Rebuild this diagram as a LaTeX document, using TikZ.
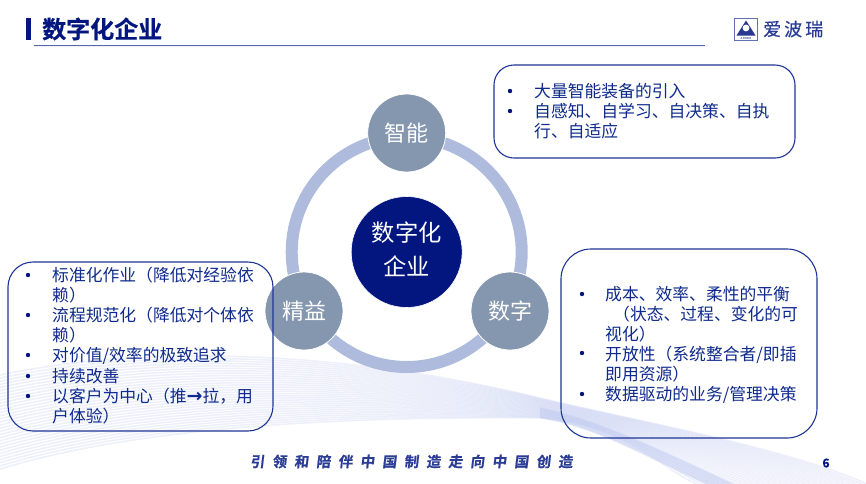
\documentclass[tikz,border=0pt]{standalone}
\usepackage{fontspec}
\setmainfont{Noto Sans CJK SC}
\newfontfamily\footfont[FakeSlant=0.12,FakeBold=0.6]{Noto Sans CJK SC Bold}
\newfontfamily\logofont[FakeBold=0.3]{Noto Sans CJK SC}
\newfontfamily\titlefont[FakeBold=0.6]{Noto Sans CJK SC Bold}
\definecolor{navy}{HTML}{03167F}
\definecolor{txtblue}{HTML}{0E2A8C}
\definecolor{boxblue}{HTML}{1F3595}
\definecolor{ringc}{HTML}{AEBBDC}
\definecolor{satc}{HTML}{8497AF}
\definecolor{rulec}{HTML}{5468AE}
\definecolor{footc}{HTML}{2A3C96}
\definecolor{wavec}{HTML}{C4CEF2}
\newcommand{\fgap}{\hspace{7.6pt}}
\tikzset{
  x=1pt,y=-1pt,
  hub/.style={circle,fill=navy,draw=white,line width=.6pt,minimum size=111pt,inner sep=0pt,text=white,font=\fontsize{23.3}{34}\selectfont,align=center},
  sat/.style={circle,fill=satc,draw=white,line width=.8pt,minimum size=78pt,inner sep=0pt,text=white,font=\fontsize{22}{26}\selectfont},
  card/.style={draw=boxblue,line width=1.1pt},
  itemtext/.style={anchor=north west,inner sep=0pt,text=txtblue,font=\fontsize{16.8}{20.1}\selectfont,align=left},
  dot/.style={circle,fill=navy,inner sep=0pt,minimum size=4.4pt},
  wave/.style={wavec,line width=1.5pt,opacity=.3},
  wavestrong/.style={wavec,line width=1.6pt,opacity=.5}
}
\begin{document}
\begin{tikzpicture}
\useasboundingbox (0,0) rectangle (866,483);
\fill[white] (0,0) rectangle (866,483);
% background waves
\begin{scope}
\clip (0,0) rectangle (866,483);
\foreach \t in {0,.033,...,1.0}{
  \draw[wave] (0,{375+95*\t}) .. controls (130,{348+82*\t}) and (320,{345+72*\t}) .. (540,{398+20*\t})
     .. controls (640,{422+6*\t}) and ({800-140*\t},{450+25*\t}) .. ({880-170*\t},{490});
}
\foreach \t in {.5,.56,...,1.0}{
  \draw[wavestrong] (540,{398+20*\t}) .. controls (600,{415+12*\t}) and ({680-30*\t},{445+15*\t}) .. ({770-50*\t},{490});
}
\end{scope}
% header
\fill[navy] (26,18) rectangle (31,40);
\node[anchor=west,inner sep=0pt,text=navy,font=\titlefont\fontsize{24}{28}\selectfont] (title) at (42,29) {数字化企业};
\coordinate (ruleL) at (34,45);
\coordinate (ruleR) at (705,45);
\draw[black!6,line width=1.4pt] (34,46.5) -- (708,46.5);
\draw[rulec,line width=.8pt] (ruleL) -- (ruleR);
% logo
\draw[boxblue!70,line width=.8pt] (734.5,18) rectangle (757.5,40.5);
\fill[navy!85] (746,20.5) -- (755.5,35.5) -- (736.5,35.5) -- cycle;
\fill[white] (746,28) circle (3.4);
\node[inner sep=0pt,text=navy,font=\fontsize{2.8}{3}\selectfont] (logotag) at (746,38) {A.BRAIN};
\node[anchor=west,inner sep=0pt,text=footc,font=\logofont\fontsize{18}{20}\selectfont] (logotext) at (763,29) {爱\hspace{3pt}波\hspace{3pt}瑞};
% ring
\coordinate (ringc) at (406.7,252);
\draw[ringc,line width=12pt] (ringc) circle (115);
% nodes
\node[hub] (hub) at (406.7,252) {\raisebox{1.5pt}{\begin{tabular}{@{}c@{}}数字化\\企业\end{tabular}}};
\node[sat] (zn) at (406.7,133) {智能};
\node[sat] (sz) at (510,311) {数字};
\node[sat] (jy) at (304,311) {精益};
% cards
\draw[card,rounded corners=20pt] (494,65) rectangle (795,158);
\draw[card,rounded corners=30pt] (561,249) rectangle (817,438);
\draw[card,rounded corners=25pt] (8,262) rectangle (273,431);
% top right
\node[dot] at (510,91) {};
\node[dot] at (510,111) {};
\node[itemtext] (t1) at (534,83) {大量智能装备的引入\\自感知、自学习、自决策、自执\\行、自适应};
% bottom right
\node[dot] at (582,294) {};
\node[dot] at (582,353) {};
\node[dot] at (582,394) {};
\node[itemtext] (t2) at (605,286) {成本、效率、柔性的平衡\\\hspace*{8pt}（状态、过程、变化的可\\视化）\\开放性（系统整合者/即插\\即用资源）\\数据驱动的业务/管理决策};
% left
\node[dot] at (28,275) {};
\node[dot] at (28,315) {};
\node[dot] at (28,355) {};
\node[dot] at (28,376) {};
\node[dot] at (28,396) {};
\node[itemtext] (t3) at (52,267) {标准化作业（降低对经验依\\赖）\\流程规范化（降低对个体依\\赖）\\对价值/效率的极致追求\\持续改善\\以客户为中心（推{\fontspec{DejaVu Sans Bold}\fontsize{19}{20}\selectfont→}拉，用\\户体验）};
% footer
\node[anchor=west,inner sep=0pt,text=footc,font=\footfont\fontsize{14.4}{16}\selectfont] (foot) at (250,461.5) {引\fgap 领\fgap 和\fgap 陪\fgap 伴\fgap 中\fgap 国\fgap 制\fgap 造\fgap 走\fgap 向\fgap 中\fgap 国\fgap 创\fgap 造};
\node[inner sep=0pt,text=navy,font=\titlefont\fontsize{12}{14}\selectfont] (pg) at (826,463) {6};
\end{tikzpicture}
\end{document}
